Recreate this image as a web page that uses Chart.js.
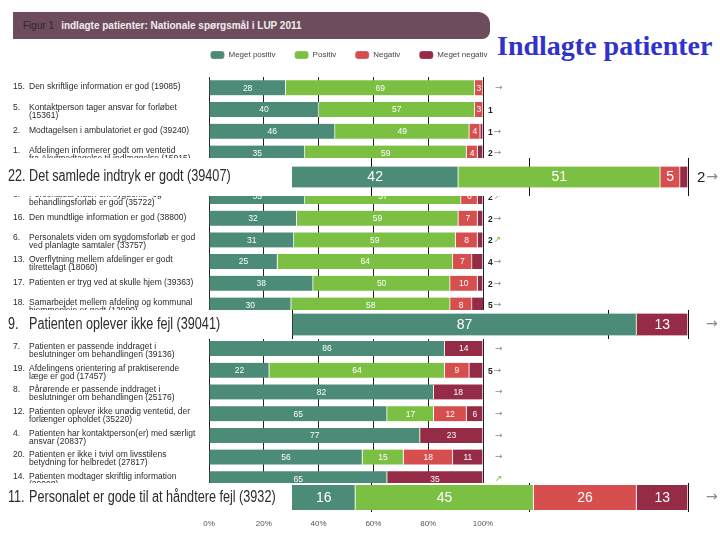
<!DOCTYPE html>
<html>
<head>
<meta charset="utf-8">
<script src="https://cdn.jsdelivr.net/npm/chart.js@4.4.1/dist/chart.umd.min.js"></script>
<style>
  body { margin: 0; background: #fff; width: 720px; height: 540px; overflow: hidden; position: relative; font-family: "Liberation Sans", Arial, sans-serif; }
  #titlebar { position: absolute; left: 13px; top: 12px; width: 477px; height: 27px; background: #6d4c5d; border-radius: 0 12px 8px 0; font-size: 10px; line-height: 27px; color: #f2ecef; font-weight: bold; white-space: nowrap; }
  #titlebar span { color: #2e2a2c; font-weight: normal; margin-left: 10px; margin-right: 7px; }
  #bigtitle { position: absolute; left: 497px; top: 30px; font: bold 28px "Liberation Serif", "Times New Roman", serif; color: #3131cc; white-space: nowrap; }
  canvas { position: absolute; left: 0; }
  .ov { background: #fff; }
</style>
</head>
<body>
<div id="titlebar"><span>Figur 1</span>indlagte patienter: Nationale spørgsmål i LUP 2011</div>
<div id="bigtitle">Indlagte patienter</div>
<canvas id="base" width="698" height="540" style="top:0"></canvas>
<canvas id="ov22" class="ov" width="720" height="38" style="top:158px"></canvas>
<canvas id="ov9" class="ov" width="720" height="29" style="top:310px"></canvas>
<canvas id="ov11" class="ov" width="720" height="29" style="top:483px"></canvas>
<script>
const seriesNames = ['Meget positiv', 'Positiv', 'Negativ', 'Meget negativ'];
const colors = ['#4b8b78', '#7cc043', '#d64f4e', '#962b46'];

const rowNumbers = ['15.', '5.', '2.', '1.', '22.', '3.', '16.', '6.', '13.', '17.', '18.', '9.', '7.', '19.', '8.', '12.', '4.', '20.', '14.', '11.'];
const rowLabels = [
    ['Den skriftlige information er god (19085)'],
    ['Kontaktperson tager ansvar for forløbet', '(15361)'],
    ['Modtagelsen i ambulatoriet er god (39240)'],
    ['Afdelingen informerer godt om ventetid', 'fra Akutmodtagelse til indlæggelse (15915)'],
    ['Det samlede indtryk er godt (39407)'],
    ['Personalets viden om sygdoms- og', 'behandlingsforløb er god (35722)'],
    ['Den mundtlige information er god (38800)'],
    ['Personalets viden om sygdomsforløb er god', 'ved planlagte samtaler (33757)'],
    ['Overflytning mellem afdelinger er godt', 'tilrettelagt (18060)'],
    ['Patienten er tryg ved at skulle hjem (39363)'],
    ['Samarbejdet mellem afdeling og kommunal', 'hjemmepleje er godt (12990)'],
    ['Patienten oplever ikke fejl (39041)'],
    ['Patienten er passende inddraget i', 'beslutninger om behandlingen (39136)'],
    ['Afdelingens orientering af praktiserende', 'læge er god (17457)'],
    ['Pårørende er passende inddraget i', 'beslutninger om behandlingen (25176)'],
    ['Patienten oplever ikke unødig ventetid, der', 'forlænger opholdet (35220)'],
    ['Patienten har kontaktperson(er) med særligt', 'ansvar (20837)'],
    ['Patienten er ikke i tvivl om livsstilens', 'betydning for helbredet (27817)'],
    ['Patienten modtager skriftlig information', '(29008)'],
    ['Personalet er gode til at håndtere fejl (3932)']
];

const megetPositiv = [28, 40, 46, 35, 42, 35, 32, 31, 25, 38, 30, 87, 86, 22, 82, 65, 77, 56, 65, 16];
const positiv      = [69, 57, 49, 59, 51, 57, 59, 59, 64, 50, 58,  0,  0, 64,  0, 17,  0, 15,  0, 45];
const negativ      = [ 3,  3,  4,  4,  5,  6,  7,  8,  7, 10,  8,  0,  0,  9,  0, 12,  0, 18,  0, 26];
const megetNegativ = [ 0,  1,  1,  2,  2,  2,  2,  2,  4,  2,  5, 13, 14,  5, 18,  6, 23, 11, 35, 13];

// small "meget negativ" values printed right of the bar, and the trend arrow
const rightNum = ['', '1', '1', '2', '2', '2', '2', '2', '4', '2', '5', '', '', '5', '', '', '', '', '', ''];
const trend    = ['→', '', '→', '→', '→', '↗', '→', '↗', '→', '→', '→', '→', '→', '→', '→', '→', '→', '→', '↗', '→'];

const xTicks = [0, 20, 40, 60, 80, 100];

Chart.defaults.font.family = '"Liberation Sans", Arial, sans-serif';

const allSeries = [megetPositiv, positiv, negativ, megetNegativ];

function makeDatasets(rows, thickness) {
    return allSeries.map((s, k) => ({
        label: seriesNames[k],
        data: rows.map(r => s[r]),
        backgroundColor: colors[k],
        borderColor: 'rgba(255,255,255,0.85)',
        borderWidth: { top: 0, bottom: 0, left: 0, right: 1 },
        borderSkipped: false,
        barThickness: thickness
    }));
}

// white numbers inside the segments
const barText = {
    id: 'barText',
    afterDatasetsDraw(chart, args, o) {
        const ctx = chart.ctx;
        ctx.save();
        ctx.fillStyle = '#fff';
        ctx.font = o.font;
        ctx.textAlign = 'center';
        ctx.textBaseline = 'middle';
        chart.data.datasets.forEach((ds, di) => {
            chart.getDatasetMeta(di).data.forEach((bar, i) => {
                const v = ds.data[i];
                const row = o.rows[i];
                if (v < 3) return;
                if (di === 3 && rightNum[row] !== '') return;
                ctx.fillText(v, (bar.x + bar.base) / 2, bar.y + 0.5);
            });
        });
        ctx.restore();
    }
};

// row labels on the left and extra numbers/arrows on the right
const rowText = {
    id: 'rowText',
    afterDraw(chart, args, o) {
        const ctx = chart.ctx;
        const y = chart.scales.y;
        ctx.save();
        ctx.textBaseline = 'middle';
        o.rows.forEach((row, i) => {
            const c = y.getPixelForValue(i);
            const lines = o.big ? [rowLabels[row].join(' ')] : rowLabels[row];
            const y0 = lines.length > 1 ? c - 2 : c - 1 + (o.big ? 1 : 0);
            ctx.fillStyle = '#2b2b2b';
            ctx.font = o.labelFont;
            ctx.save();
            ctx.translate(o.numX, y0);
            ctx.scale(o.sx, 1);
            ctx.fillText(rowNumbers[row], 0, 0);
            lines.forEach((t, k) => ctx.fillText(t, (o.textX - o.numX) / o.sx, k * o.lineH));
            ctx.restore();

            let x = o.rightX;
            if (rightNum[row] !== '') {
                ctx.fillStyle = '#222';
                ctx.font = o.numFont;
                ctx.fillText(rightNum[row], x, c + 1);
                x += ctx.measureText(rightNum[row]).width + 1;
            } else {
                x += o.arrowShift;
            }
            if (trend[row]) {
                ctx.fillStyle = trend[row] === '↗' ? '#7cc043' : '#8a8a8a';
                ctx.font = o.arrowFont;
                ctx.fillText(trend[row], x, c);
            }
        });
        ctx.restore();
    }
};

const baseRows = rowNumbers.map((n, i) => i);

new Chart(document.getElementById('base'), {
    type: 'bar',
    data: { labels: rowNumbers, datasets: makeDatasets(baseRows, 15) },
    plugins: [barText, rowText],
    options: {
        indexAxis: 'y',
        responsive: false,
        animation: false,
        layout: { padding: { top: 32, bottom: 3, left: 0, right: 0 } },
        plugins: {
            legend: {
                position: 'top',
                labels: {
                    boxWidth: 14, boxHeight: 8, useBorderRadius: true, borderRadius: 3,
                    padding: 19, color: '#444', font: { size: 8 }
                }
            },
            tooltip: { enabled: false },
            barText: { rows: baseRows, font: '8.5px "Liberation Sans", Arial, sans-serif' },
            rowText: {
                rows: baseRows, big: false, numX: 13, textX: 29, sx: 1, lineH: 8,
                labelFont: '8.5px "Liberation Sans", Arial, sans-serif',
                numFont: 'bold 8.5px "Liberation Sans", Arial, sans-serif',
                arrowFont: '9px "DejaVu Sans", sans-serif',
                rightX: 488, arrowShift: 7
            }
        },
        scales: {
            x: {
                stacked: true, min: 0, max: 100,
                afterBuildTicks(s) { s.ticks = xTicks.map(v => ({ value: v })); },
                ticks: { callback: v => v + '%', color: '#555', font: { size: 8 }, padding: 8 },
                grid: { color: '#222', drawTicks: false },
                border: { display: false }
            },
            xt: {
                position: 'top',
                ticks: { display: false },
                grid: { display: false },
                border: { display: false },
                afterFit(s) { s.height = 8; }
            },
            y: {
                stacked: true,
                ticks: { display: false },
                grid: { display: false },
                border: { display: false },
                afterFit(s) { s.width = 209; }
            },
            yr: {
                type: 'category', position: 'right',
                ticks: { display: false },
                grid: { display: false },
                border: { display: false },
                afterFit(s) { s.width = 215; }
            }
        }
    }
});

// enlarged rows pasted over the figure
const overlays = [
    { id: 'ov22', row: 4, thick: 21, ticks: [20, 60, 100] },
    { id: 'ov9', row: 11, thick: 22, ticks: [0, 80, 100] },
    { id: 'ov11', row: 19, thick: 25, ticks: [20, 60, 100] }
];

overlays.forEach(ov => {
    const rows = [ov.row];
    new Chart(document.getElementById(ov.id), {
        type: 'bar',
        data: { labels: [rowNumbers[ov.row]], datasets: makeDatasets(rows, ov.thick) },
        plugins: [barText, rowText],
        options: {
            indexAxis: 'y',
            responsive: false,
            animation: false,
            layout: { padding: { top: 0, bottom: 0, left: 292, right: 32 } },
            plugins: {
                legend: { display: false },
                tooltip: { enabled: false },
                barText: { rows: rows, font: '14px "Liberation Sans", Arial, sans-serif' },
                rowText: {
                    rows: rows, big: true, numX: 8, textX: 29, sx: 0.79, lineH: 16,
                    labelFont: '16px "Liberation Sans", Arial, sans-serif',
                    numFont: '15px "Liberation Sans", Arial, sans-serif',
                    arrowFont: '14px "DejaVu Sans", sans-serif',
                    rightX: 697, arrowShift: 9
                }
            },
            scales: {
                x: {
                    stacked: true, min: 0, max: 100,
                    afterBuildTicks(s) { s.ticks = ov.ticks.map(v => ({ value: v })); },
                    ticks: { display: false },
                    grid: { color: '#111', drawTicks: false },
                    border: { display: false }
                },
                y: {
                    stacked: true, display: false
                }
            }
        }
    });
});
</script>
</body>
</html>
